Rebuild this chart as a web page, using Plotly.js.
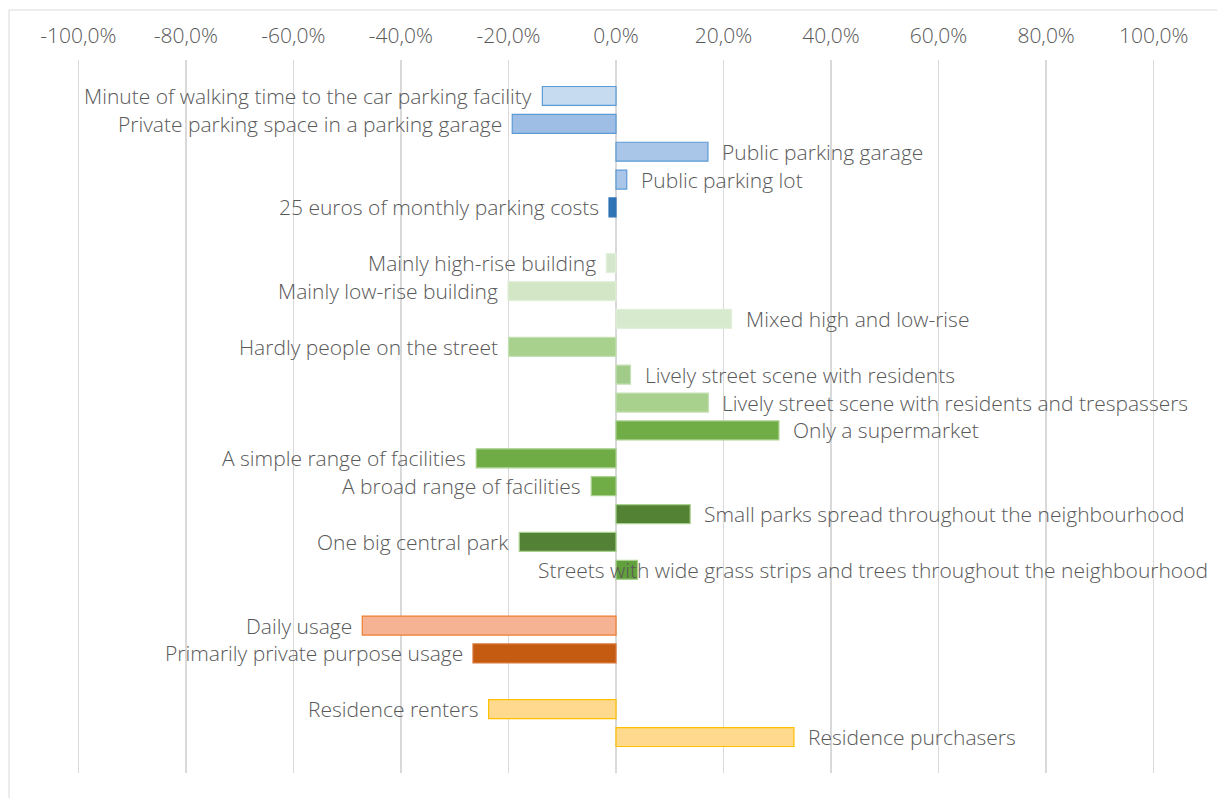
<!DOCTYPE html>
<html>
<head>
<meta charset="utf-8">
<script src="https://cdn.plot.ly/plotly-3.0.1.min.js"></script>
<style>
  html, body { margin: 0; padding: 0; background: #ffffff; }
  #chart { width: 1217px; height: 798px; }
</style>
</head>
<body>
<div id="chart"></div>
<script>
// ---- data ----
const categories = [
  "Minute of walking time to the car parking facility",
  "Private parking space in a parking garage",
  "Public parking garage",
  "Public parking lot",
  "25 euros of monthly parking costs",
  " ",
  "Mainly high-rise building",
  "Mainly low-rise building",
  "Mixed high and low-rise",
  "Hardly people on the street",
  "Lively street scene with residents",
  "Lively street scene with residents and trespassers",
  "Only a supermarket",
  "A simple range of facilities",
  "A broad range of facilities",
  "Small parks spread throughout the neighbourhood",
  "One big central park",
  "Streets with wide grass strips and trees throughout the neighbourhood",
  "  ",
  "Daily usage",
  "Primarily private purpose usage",
  "   ",
  "Residence renters",
  "Residence purchasers"
];
const values = [
  -0.137, -0.193, 0.171, 0.020, -0.013,
  null,
  -0.018, -0.201, 0.215, -0.200, 0.027, 0.172, 0.303, -0.260, -0.046, 0.138, -0.180, 0.040,
  null,
  -0.472, -0.266,
  null,
  -0.237, 0.331
];
const fillColors = [
  "#c6daf0", "#9fbee6", "#a9c5e8", "#a9c5e8", "#2e75b6",
  "#ffffff",
  "#d6e8cb", "#d3e7c6", "#d8eacd", "#a9d18e", "#a1cb89", "#a9d18e", "#70ad47", "#6fac46", "#70ad47", "#548235", "#538135", "#62a03d",
  "#ffffff",
  "#f5b393", "#c55a11",
  "#ffffff",
  "#ffd98e", "#ffd98e"
];
const lineColors = [
  "#5b9bd5", "#5b9bd5", "#5b9bd5", "#5b9bd5", "#2e75b6",
  "#ffffff",
  "#e2efda", "#e2efda", "#e2efda", "#c5e0b4", "#c5e0b4", "#c5e0b4", "#a9d18e", "#a9d18e", "#a9d18e", "#a9d18e", "#a9d18e", "#a9d18e",
  "#ffffff",
  "#ed7d31", "#d9773a",
  "#ffffff",
  "#ffc000", "#ffc000"
];
const tickValues = [-1, -0.8, -0.6, -0.4, -0.2, 0, 0.2, 0.4, 0.6, 0.8, 1];
const tickLabels = ["-100,0%", "-80,0%", "-60,0%", "-40,0%", "-20,0%", "0,0%", "20,0%", "40,0%", "60,0%", "80,0%", "100,0%"];

// ---- styling ----
const FONT = "'Open Sans', 'Helvetica Neue', Arial, sans-serif";
const TXT = "#595959";
const LABEL_SIZE = 21;

const trace = {
  type: "bar",
  orientation: "h",
  y: categories,
  x: values,
  width: 0.68,
  marker: { color: fillColors, line: { color: lineColors, width: 1.2 } },
  hoverinfo: "skip",
  showlegend: false
};

const annotations = [];
categories.forEach((c, i) => {
  const v = values[i];
  if (v === null) return;
  const overflow = c.startsWith("Streets with wide");
  if (overflow) {
    annotations.push({
      xref: "paper", yref: "y", x: 1.0468, y: c, text: c,
      xanchor: "right", yanchor: "middle", showarrow: false,
      font: { family: FONT, size: LABEL_SIZE, color: TXT, weight: 300 }
    });
  } else {
    annotations.push({
      xref: "x", yref: "y", x: v, y: c, text: c,
      xanchor: v < 0 ? "right" : "left", yanchor: "middle",
      xshift: v < 0 ? -8 : 12, showarrow: false,
      font: { family: FONT, size: LABEL_SIZE, color: TXT, weight: 300 }
    });
  }
});

const layout = {
  width: 1217, height: 798,
  margin: { l: 73, r: 58, t: 60, b: 25 },
  paper_bgcolor: "#ffffff",
  plot_bgcolor: "#ffffff",
  font: { family: FONT, color: TXT, size: 17, weight: 300 },
  bargap: 0.3,
  xaxis: {
    side: "top",
    range: [-1.01, 1.01],
    tickvals: tickValues,
    ticktext: tickLabels,
    ticks: "",
    showgrid: true,
    gridcolor: "#d9d9d9",
    gridwidth: 1.5,
    zeroline: false,
    showline: false,
    tickfont: { family: FONT, size: 21, color: TXT, weight: 300 },
    ticklabelstandoff: 12,
    fixedrange: true
  },
  yaxis: {
    type: "category",
    categoryorder: "array",
    categoryarray: categories,
    range: [24.29, -1.29],
    showticklabels: false,
    ticks: "",
    showgrid: false,
    zeroline: false,
    showline: false,
    fixedrange: true
  },
  shapes: [{
    type: "rect", xref: "paper", yref: "paper",
    x0: -0.0589, x1: 1.2, y0: -0.2, y1: 1.0701,
    line: { color: "#d9d9d9", width: 1 }, fillcolor: "rgba(0,0,0,0)", layer: "below"
  }],
  annotations: annotations
};

Plotly.newPlot("chart", [trace], layout, { displayModeBar: false, staticPlot: true });
</script>
</body>
</html>
